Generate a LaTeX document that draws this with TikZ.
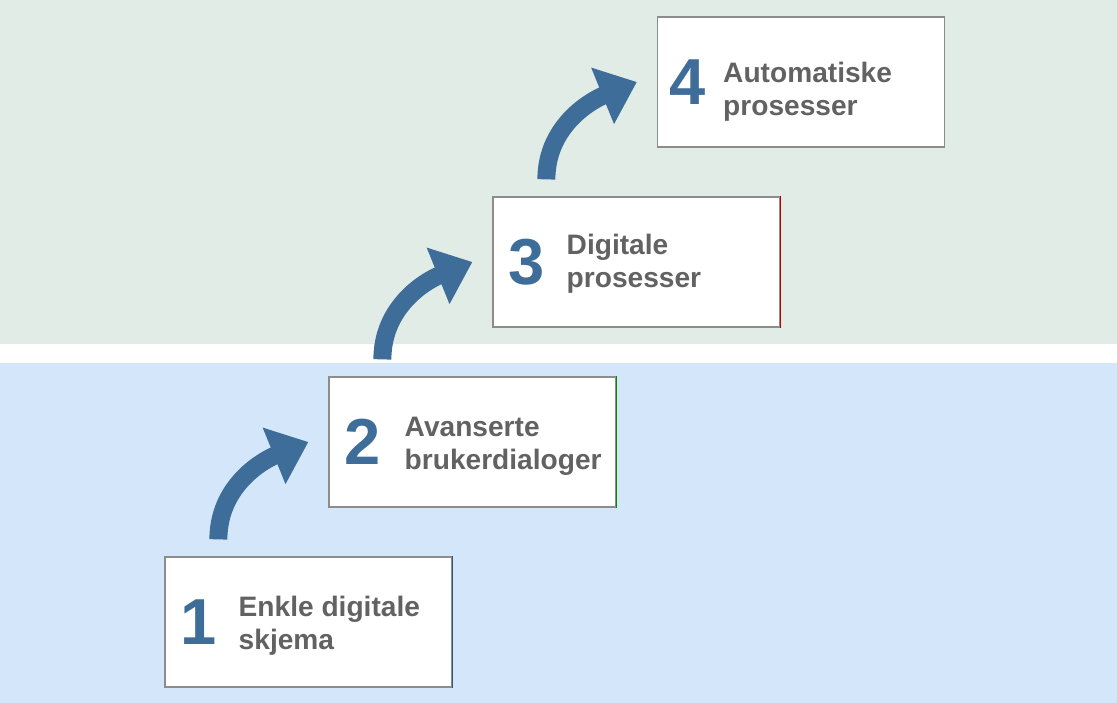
\documentclass[tikz,border=0pt]{standalone}
\usepackage{fontspec}
\setmainfont{Liberation Sans}
\usetikzlibrary{arrows.meta, positioning, calc}
\definecolor{bandgreen}{RGB}{226,236,230}
\definecolor{bandblue}{RGB}{212,231,250}
\definecolor{stepblue}{RGB}{62,109,153}
\definecolor{textgray}{RGB}{98,98,98}
\definecolor{boxline}{RGB}{140,140,140}

\begin{document}
\begin{tikzpicture}[
    stepbox/.style={draw=boxline, line width=0.7pt, fill=white, rectangle,
                    minimum width=5.74cm, minimum height=2.6cm, inner sep=0pt},
    stepnum/.style={font=\fontsize{37}{37}\selectfont\bfseries,
                    text=stepblue, inner sep=0pt, anchor=west},
    steptxt/.style={font=\fontsize{16}{18.7}\selectfont\bfseries,
                    text=textgray, align=left, inner sep=0pt, anchor=west},
    stepar/.style={draw=stepblue, line width=0.36cm,
                   -{Triangle[length=0.74cm,width=1.17cm]}},
    sideedge/.style={line width=0.7pt}
  ]
    \useasboundingbox (0,0) rectangle (22.34,14.06);

    % Bakgrunn
    \fill[bandgreen] (0,7.18) rectangle (22.34,14.06);
    \fill[bandblue]  (0,0)    rectangle (22.34,6.80);

    % Trinn
    \node[stepbox] (b1) at (6.17,1.62)  {};
    \node[stepbox] (b2) at (9.45,5.22)  {};
    \node[stepbox] (b3) at (12.73,8.82) {};
    \node[stepbox] (b4) at (16.02,12.42){};
    \draw[sideedge, draw=stepblue!80!black] (b1.north east) -- (b1.south east);
    \draw[sideedge, draw=green!55!black]    (b2.north east) -- (b2.south east);
    \draw[sideedge, draw=red!75!black]      (b3.north east) -- (b3.south east);

    % Tall og tekst
    \node[stepnum] (n1) at ([xshift=0.32cm]b1.west) {1};
    \node[stepnum] (n2) at ([xshift=0.32cm]b2.west) {2};
    \node[stepnum] (n3) at ([xshift=0.32cm]b3.west) {3};
    \node[stepnum] (n4) at ([xshift=0.24cm]b4.west) {4};
    \node[steptxt] (t1) at ([xshift=1.48cm,yshift=-0.08cm]b1.west) {Enkle digitale\\skjema};
    \node[steptxt] (t2) at ([xshift=1.52cm,yshift=-0.09cm]b2.west) {Avanserte\\brukerdialoger};
    \node[steptxt] (t3) at ([xshift=1.48cm,yshift=-0.04cm]b3.west) {Digitale\\prosesser};
    \node[steptxt] (t4) at ([xshift=1.32cm,yshift=-0.2cm]b4.west) {Automatiske\\prosesser};

    % Piler mellom trinnene
    \draw[stepar] ([shift={(1.08,0.34)}]b1.north west) to[out=90,in=202] ([xshift=-0.4cm]b2.west);
    \draw[stepar] ([shift={(1.08,0.34)}]b2.north west) to[out=90,in=202] ([xshift=-0.4cm]b3.west);
    \draw[stepar] ([shift={(1.08,0.34)}]b3.north west) to[out=90,in=202] ([xshift=-0.4cm]b4.west);
\end{tikzpicture}
\end{document}
